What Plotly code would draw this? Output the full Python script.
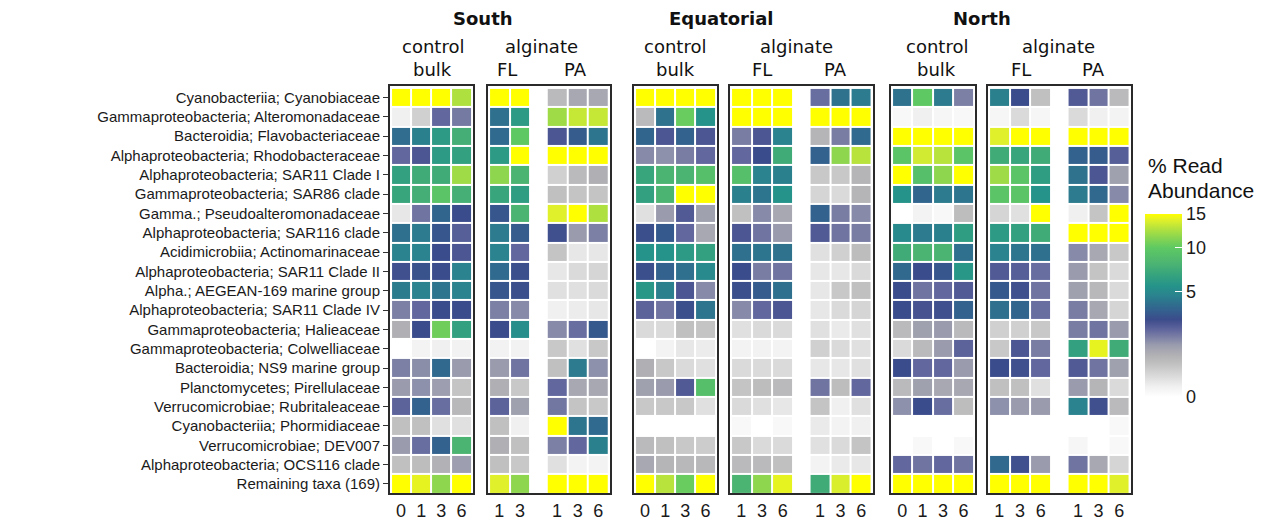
import numpy as np
import plotly.graph_objects as go

# ---------------------------------------------------------------- data
taxa = [
    "Cyanobacteriia; Cyanobiaceae",
    "Gammaproteobacteria; Alteromonadaceae",
    "Bacteroidia; Flavobacteriaceae",
    "Alphaproteobacteria; Rhodobacteraceae",
    "Alphaproteobacteria; SAR11 Clade I",
    "Gammaproteobacteria; SAR86 clade",
    "Gamma.; Pseudoalteromonadaceae",
    "Alphaproteobacteria; SAR116 clade",
    "Acidimicrobiia; Actinomarinaceae",
    "Alphaproteobacteria; SAR11 Clade II",
    "Alpha.; AEGEAN-169 marine group",
    "Alphaproteobacteria; SAR11 Clade IV",
    "Gammaproteobacteria; Halieaceae",
    "Gammaproteobacteria; Colwelliaceae",
    "Bacteroidia; NS9 marine group",
    "Planctomycetes; Pirellulaceae",
    "Verrucomicrobiae; Rubritaleaceae",
    "Cyanobacteriia; Phormidiaceae",
    "Verrucomicrobiae; DEV007",
    "Alphaproteobacteria; OCS116 clade",
    "Remaining taxa (169)",
]

bulk_days = ["0", "1", "3", "6"]
fl_days_south = ["1", "3"]
fl_days = ["1", "3", "6"]
pa_days = ["1", "3", "6"]

# % read abundance, one row per taxon, one column per sampling day
south_bulk = [
    [24, 21, 18, 12.5], [0.05, 0.3, 2.0, 1.7], [3.8, 4.5, 6.0, 7.5], [2.0, 2.4, 6.0, 6.5],
    [6.5, 7.3, 7.3, 12.0], [6.8, 7.5, 9.5, 7.6], [0.1, 1.8, 3.5, 2.7], [3.9, 4.3, 3.0, 2.2],
    [4.6, 4.6, 2.7, 2.4], [2.6, 2.9, 2.7, 4.6], [4.4, 4.6, 4.1, 4.6], [1.6, 2.0, 2.7, 2.7],
    [0.8, 2.7, 10.5, 6.5], [0.0, 0.03, 0.05, 0.04], [1.6, 1.4, 3.6, 1.2], [1.2, 1.35, 1.15, 0.45],
    [2.1, 3.4, 1.9, 0.65], [0.5, 0.5, 0.15, 0.15], [1.2, 1.9, 3.4, 8.0], [0.5, 0.55, 0.75, 1.15],
    [19, 14.2, 11.5, 17],
]
south_fl = [
    [20, 18], [3.9, 6.0], [3.7, 10.0], [6.0, 15.5], [11.5, 8.0], [6.8, 6.2], [3.0, 8.0],
    [4.3, 3.2], [4.6, 2.0], [3.7, 2.8], [3.0, 2.8], [1.6, 1.45], [2.7, 5.2], [0.04, 0.04],
    [1.2, 1.8], [0.8, 0.4], [2.1, 1.1], [0.5, 0.05], [0.8, 0.5], [0.5, 0.4], [14.0, 11.5],
]
south_pa = [
    [0.6, 0.95, 0.95], [12.0, 13.2, 13.2], [2.4, 3.2, 4.1], [17, 19, 16], [0.3, 0.6, 0.8],
    [0.5, 0.45, 0.45], [14.0, 16.0, 12.5], [2.6, 1.2, 1.6], [0.45, 0.1, 0.1], [0.1, 0.2, 0.25],
    [0.15, 0.15, 0.2], [0.05, 0.07, 0.1], [1.45, 1.9, 3.1], [0.4, 0.15, 0.4], [0.5, 4.3, 1.35],
    [2.0, 0.95, 0.95], [1.75, 0.45, 0.4], [16.0, 4.1, 3.7], [1.6, 2.0, 4.5], [0.15, 0.03, 0.03],
    [18, 17, 19],
]
eq_bulk = [
    [22, 20, 21, 18], [0.6, 4.0, 10.3, 5.5], [3.5, 2.4, 3.4, 2.4], [1.45, 1.35, 1.65, 2.0],
    [6.8, 8.0, 8.0, 9.0], [6.5, 8.0, 16, 16], [0.15, 1.2, 2.3, 1.1], [2.8, 3.1, 2.0, 0.95],
    [5.5, 5.5, 6.0, 6.5], [2.8, 3.4, 3.9, 5.0], [5.8, 4.5, 2.4, 1.45], [2.1, 1.8, 2.8, 4.1],
    [0.2, 0.2, 0.5, 0.45], [0.0, 0.03, 0.1, 0.07], [0.8, 0.4, 0.2, 0.15], [1.1, 1.2, 2.3, 9.0],
    [0.4, 0.4, 0.4, 0.15], [0.0, 0.0, 0.0, 0.0], [0.6, 0.5, 0.4, 0.35], [0.95, 0.7, 0.65, 0.65],
    [17, 12.8, 10.3, 17],
]
eq_fl = [
    [20, 19, 18], [17, 16, 18], [1.65, 2.4, 4.6], [2.0, 2.7, 7.3], [9.0, 4.6, 4.5],
    [4.5, 4.1, 5.5], [0.5, 1.45, 0.95], [2.4, 1.8, 1.2], [3.9, 4.1, 4.0], [2.7, 1.65, 1.8],
    [2.8, 3.2, 3.9], [1.45, 2.0, 2.4], [0.15, 0.2, 0.2], [0.03, 0.04, 0.03], [0.2, 0.2, 0.2],
    [0.45, 0.55, 0.6], [0.2, 0.15, 0.1], [0.01, 0.0, 0.01], [0.4, 0.2, 0.2], [0.6, 0.6, 0.5],
    [8.0, 11.5, 14.2],
]
eq_pa = [
    [1.9, 4.0, 4.3], [18, 17, 16], [0.7, 1.65, 3.7], [3.4, 11.5, 12.8], [0.4, 0.4, 0.7],
    [0.25, 0.2, 0.7], [3.4, 1.65, 1.45], [2.3, 1.8, 1.65], [0.15, 0.3, 0.55], [0.1, 0.1, 0.2],
    [0.1, 0.4, 0.5], [0.1, 0.2, 0.25], [0.15, 0.08, 0.15], [0.3, 0.2, 0.15], [0.1, 0.1, 0.15],
    [1.8, 0.55, 2.0], [0.45, 0.05, 0.15], [0.08, 0.03, 0.05], [0.15, 0.2, 0.45], [0.03, 0.08, 0.1],
    [7.3, 13.8, 16],
]
north_bulk = [
    [4.0, 10.0, 4.3, 1.6], [0.01, 0.05, 0.02, 0.01], [17, 18, 19, 17], [9.5, 13.5, 12.8, 9.5],
    [16, 9.0, 11.5, 16], [5.5, 3.5, 4.3, 4.1], [0.0, 0.03, 0.01, 0.55], [5.0, 4.3, 4.5, 6.2],
    [7.3, 8.0, 8.0, 3.9], [3.6, 2.7, 3.0, 5.8], [2.7, 1.8, 2.0, 2.3], [2.7, 2.5, 2.6, 3.4],
    [0.6, 1.1, 1.2, 0.6], [0.2, 0.6, 1.2, 2.1], [2.7, 2.0, 2.0, 1.2], [0.6, 1.1, 0.95, 0.95],
    [1.35, 2.7, 1.9, 0.55], [0.0, 0.0, 0.0, 0.0], [0.0, 0.01, 0.0, 0.01], [2.0, 1.8, 2.0, 1.8],
    [18, 17, 19, 18],
]
north_fl = [
    [4.5, 2.7, 0.5], [0.02, 0.2, 0.02], [14.0, 17, 18], [7.3, 6.8, 7.3], [12.0, 9.5, 6.2],
    [9.5, 9.5, 5.5], [0.25, 0.15, 16], [6.0, 6.5, 7.3], [4.6, 4.1, 3.9], [2.3, 2.2, 1.9],
    [3.1, 2.6, 1.8], [3.9, 3.5, 1.9], [0.3, 0.3, 0.4], [0.4, 2.4, 1.65], [2.7, 2.6, 2.0],
    [0.5, 0.5, 0.15], [1.35, 1.2, 1.2], [0.0, 0.0, 0.0], [0.0, 0.0, 0.0], [3.6, 2.6, 1.2],
    [20, 18, 17],
]
north_pa = [
    [2.3, 1.8, 0.6], [0.2, 0.05, 0.03], [19, 18, 17], [3.4, 3.2, 2.2], [4.0, 2.4, 1.1],
    [4.3, 3.6, 1.45], [0.05, 0.45, 16], [17, 16, 18], [1.45, 0.95, 0.4], [1.2, 0.45, 0.2],
    [1.1, 0.65, 0.2], [1.65, 0.95, 0.25], [1.65, 1.8, 1.2], [6.5, 14.2, 7.3], [2.3, 1.8, 1.1],
    [1.2, 0.7, 0.2], [4.6, 2.6, 0.6], [0.0, 0.0, 0.01], [0.02, 0.0, 0.01], [1.8, 0.95, 0.25],
    [17, 16, 14.0],
]

# ---------------------------------------------------------------- styling
W, H = 1267, 523
CAP = 15.0            # colour scale is squished at 15 %
PA_GAP = 1.8          # spacing between the last FL column and the first PA column
LABEL_FONT = "Liberation Sans, Arial, sans-serif"
HEAD_FONT = "DejaVu Sans, sans-serif"
FRAME = "#2a2a2a"

colorscale = [
    [0.000, "#ffffff"], [0.058, "#f0f0f0"], [0.141, "#d0d0d0"], [0.183, "#c0c0c0"],
    [0.231, "#b0b0b4"], [0.283, "#9a9cae"], [0.327, "#7c80a5"], [0.365, "#62689e"],
    [0.400, "#4b5692"], [0.424, "#3b4c8c"], [0.476, "#33628e"], [0.516, "#2e728e"],
    [0.554, "#2a838e"], [0.606, "#25938a"], [0.658, "#33a17f"], [0.730, "#4cb472"],
    [0.816, "#5ec962"], [0.876, "#8ed64e"], [0.924, "#b8e33c"], [0.966, "#e0f02a"],
    [1.000, "#ffff00"],
]


def sq(vals):
    """sqrt-transformed fill value, squished at CAP."""
    return np.sqrt(np.minimum(np.asarray(vals, dtype=float), CAP))


def px_x(p):
    return p / W


def px_y(p):
    return (H - p) / H


rows = list(range(len(taxa)))
y_dom = [px_y(493), px_y(86)]
y_rng = [len(taxa) - 0.53, -0.6]

# panels: pixel extent of the plotting area and the blocks of columns drawn in it
bulk_x = list(range(len(bulk_days)))


def alginate_blocks(fl_vals, fl_lab, pa_vals):
    fl_x = list(range(len(fl_lab)))
    pa_x = [fl_x[-1] + PA_GAP + i for i in range(len(pa_days))]
    return [(fl_vals, fl_x), (pa_vals, pa_x)], fl_x + pa_x, fl_lab + pa_days


panels = []
for left, right, vals in [(390, 473, south_bulk), (634, 717, eq_bulk), (891, 975, north_bulk)]:
    panels.append((left, right, [(vals, bulk_x)], bulk_x, bulk_days))
for left, right, (fl, fl_lab, pa) in [
    (488, 610, (south_fl, fl_days_south, south_pa)),
    (730, 873, (eq_fl, fl_days, eq_pa)),
    (988, 1131, (north_fl, fl_days, north_pa)),
]:
    blocks, ticks, labels = alginate_blocks(fl, fl_lab, pa)
    panels.append((left, right, blocks, ticks, labels))
# order left to right
panels.sort(key=lambda p: p[0])

fig = go.Figure()
layout = dict(
    width=W, height=H,
    margin=dict(l=0, r=0, t=0, b=0),
    paper_bgcolor="white", plot_bgcolor="white",
    showlegend=False,
    coloraxis=dict(
        colorscale=colorscale, cmin=0, cmax=float(np.sqrt(CAP)),
        colorbar=dict(
            x=px_x(1145), xanchor="left", xpad=0,
            y=px_y(305.5), yanchor="middle", ypad=0,
            thickness=37, thicknessmode="pixels",
            len=183, lenmode="pixels",
            outlinewidth=0,
            tickvals=list(sq([0, 5, 10, 15])), ticktext=["0", "5", "10", "15"],
            ticks="inside", ticklen=7, tickcolor="white", tickwidth=1,
            tickfont=dict(family=LABEL_FONT, size=18, color="#1a1a1a"),
            title=dict(text=""),
        ),
    ),
)

for i, (left, right, blocks, ticks, labels) in enumerate(panels):
    n = "" if i == 0 else str(i + 1)
    for vals, xs in blocks:
        fig.add_trace(go.Heatmap(
            z=sq(vals), x=xs, y=rows,
            customdata=np.asarray(vals, dtype=float),
            coloraxis="coloraxis", xgap=2, ygap=2,
            xaxis="x" + n, yaxis="y" + n,
            hovertemplate="%{customdata:.2f} %<extra></extra>",
        ))
    layout["xaxis" + n] = dict(
        domain=[px_x(left), px_x(right)],
        range=[-0.55, ticks[-1] + 0.57],
        anchor="y" + n,
        showline=True, mirror=True, linewidth=2, linecolor=FRAME,
        showgrid=False, zeroline=False, ticks="",
        tickmode="array", tickvals=ticks, ticktext=labels,
        tickfont=dict(family=LABEL_FONT, size=18, color="#1a1a1a"),
        fixedrange=True,
    )
    ydef = dict(
        domain=y_dom, range=y_rng, anchor="x" + n,
        showline=True, mirror=True, linewidth=2, linecolor=FRAME,
        showgrid=False, zeroline=False, fixedrange=True,
    )
    if i == 0:
        ydef.update(
            tickmode="array", tickvals=rows, ticktext=taxa,
            ticks="outside", ticklen=5, tickcolor="#333333", tickwidth=1,
            tickfont=dict(family=LABEL_FONT, size=15, color="#1a1a1a"),
        )
    else:
        ydef.update(showticklabels=False, ticks="")
    layout["yaxis" + n] = ydef

# facet headers
annotations = []


def head(text, x, y, size=18, bold=False, family=HEAD_FONT, anchor="center"):
    annotations.append(dict(
        text=f"<b>{text}</b>" if bold else text,
        x=px_x(x), y=px_y(y), xref="paper", yref="paper",
        xanchor=anchor, yanchor="middle", showarrow=False,
        font=dict(family=family, size=size, color="#111111"),
    ))


for name, x in [("South", 483), ("Equatorial", 721), ("North", 982)]:
    head(name, x, 18, bold=True)
for x in [432.5, 675, 936.5]:
    head("control", x, 46)
    head("bulk", x, 69)
for x in [541, 796, 1058]:
    head("alginate", x, 46)
for x in [507, 762, 1021]:
    head("FL", x, 69)
for x in [575, 835, 1093]:
    head("PA", x, 69)

# colour bar title
head("% Read", 1146, 166, size=21, family=LABEL_FONT, anchor="left")
head("Abundance", 1146, 190, size=21, family=LABEL_FONT, anchor="left")

layout["annotations"] = annotations
fig.update_layout(**layout)
fig.write_html("out.html")
